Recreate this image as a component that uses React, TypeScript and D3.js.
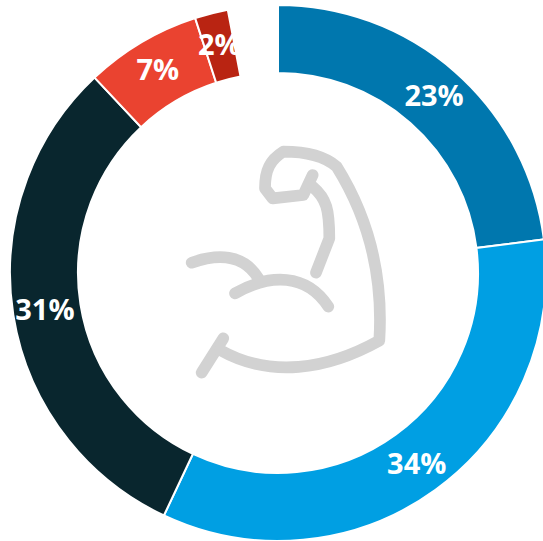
import { arc, pie } from "d3";

const categories = ["a", "b", "c", "d", "e", "blank"];
const shares = [23, 34, 31, 7, 2, 3];
const labels = ["23%", "34%", "31%", "7%", "2%", ""];
const colors = ["#0077ae", "#009fe3", "#09262e", "#ea4330", "#b92412", "none"];

// flexed arm icon, traced in its own 690x750 box
const iconPaths = [
  "M95,728 L160,625",
  "M150,660 C300,745 470,720 628,632 C640,440 600,270 500,110 C460,75 400,65 340,65 C300,90 285,120 285,175 L308,205 L400,195 L428,135",
  "M428,170 C470,205 478,240 478,325 L438,428",
  "M65,398 C140,372 220,370 265,445",
  "M195,490 C300,430 410,430 475,530",
];

const width = 543;
const height = 541;
const cx = 278;
const cy = 273;
const outerRadius = 268;
const innerRadius = 200;
const labelRadius = 236;

export default function App() {
  const slices = pie<number>().sort(null)(shares);
  const ring = arc<any>().innerRadius(innerRadius).outerRadius(outerRadius);
  const labelArc = arc<any>().innerRadius(labelRadius).outerRadius(labelRadius);

  return (
    <svg
      width={width}
      height={height}
      style={{ position: "fixed", left: 0, top: 0, display: "block", background: "#fff" }}
    >
      <g transform={`translate(${cx},${cy})`}>
        {slices.map((s, i) =>
          colors[i] === "none" ? null : (
            <path
              key={categories[i]}
              d={ring(s) ?? ""}
              fill={colors[i]}
              stroke="#fff"
              strokeWidth={2}
            />
          ),
        )}
      </g>
      <g
        transform="translate(170,130) scale(0.3333)"
        fill="none"
        stroke="#d2d2d2"
        strokeWidth={35}
        strokeLinecap="round"
        strokeLinejoin="round"
      >
        {iconPaths.map((d, i) => (
          <path key={i} d={d} />
        ))}
      </g>
      <g transform={`translate(${cx},${cy})`}>
        {slices.map((s, i) => {
          const [x, y] = labelArc.centroid(s);
          return (
            <text
              key={categories[i]}
              x={x}
              y={y}
              dy="0.36em"
              textAnchor="middle"
              fontFamily="'Open Sans', sans-serif"
              fontWeight={700}
              fontSize={29}
              fill="#fff"
            >
              {labels[i]}
            </text>
          );
        })}
      </g>
    </svg>
  );
}
